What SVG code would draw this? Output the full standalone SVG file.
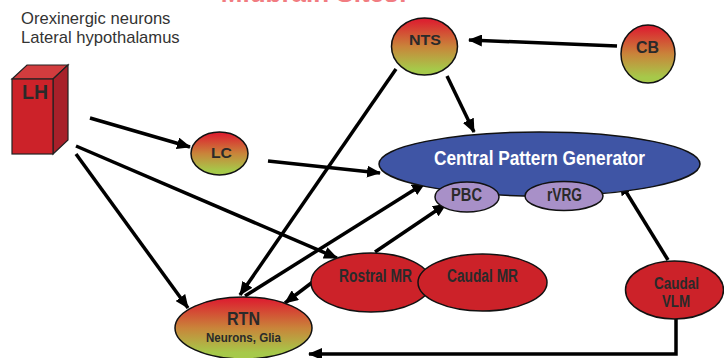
<svg xmlns="http://www.w3.org/2000/svg" width="724" height="358" viewBox="0 0 724 358">
<style>
.lbl{font-family:"Liberation Sans",Arial,sans-serif;font-weight:bold;fill:#2a2a2a;text-anchor:middle}
.red{fill:#cc2229;stroke:#111;stroke-width:1.5}
.grad{fill:url(#g);stroke:#111;stroke-width:1.5}
.pur{fill:#a890c8;stroke:#111;stroke-width:1.5}
.c{fill:none;stroke:#000;stroke-width:3.5;marker-end:url(#ah)}
.note{font-family:"Liberation Sans",Arial,sans-serif;font-size:16.6px;fill:#333}
</style>
<defs>
<linearGradient id="g" x1="0" y1="0" x2="0" y2="1">
<stop offset="0.05" stop-color="#dc2230"/>
<stop offset="0.5" stop-color="#c9843a"/>
<stop offset="0.9" stop-color="#a6c94a"/>
</linearGradient>
<marker id="ah" markerUnits="userSpaceOnUse" markerWidth="14" markerHeight="12" refX="13" refY="6" orient="auto">
<path d="M0,0 L14,6 L0,12 z" fill="#000"/>
</marker>
</defs>
<rect width="724" height="358" fill="#fff"/>
<text x="314" y="2" font-family="Liberation Sans,Arial,sans-serif" font-weight="bold" font-size="26" fill="#e8262e" text-anchor="middle" opacity="0.6">Midbrain Sites:</text>
<text class="note" x="21" y="24">Orexinergic neurons</text>
<text class="note" x="21" y="43">Lateral hypothalamus</text>

<g id="connectors">
<line class="c" x1="90" y1="118" x2="190" y2="147"/>
<line class="c" x1="76" y1="154" x2="188" y2="308"/>
<line class="c" x1="76" y1="146" x2="337" y2="258"/>
<line class="c" x1="268" y1="161" x2="380" y2="173"/>
<line class="c" x1="396" y1="69" x2="240" y2="295"/>
<line class="c" x1="447" y1="76" x2="474" y2="132"/>
<line class="c" x1="617" y1="46" x2="469" y2="40"/>
<line class="c" x1="245" y1="296" x2="425" y2="183"/>
<line class="c" x1="375" y1="252" x2="446" y2="204"/>
<line class="c" x1="314" y1="281" x2="285" y2="303"/>
<line class="c" x1="668" y1="260" x2="620" y2="182"/>
<path class="c" d="M676,319 V354 H309"/>
</g>

<g id="LH">
<polygon points="12,79 27,65 68,65 53,79" fill="#d23c3e" stroke="#222" stroke-width="1.2"/>
<polygon points="53,79 68,65 68,140 53,154" fill="#a8202a" stroke="#222" stroke-width="1.2"/>
<rect x="12" y="79" width="41" height="75" fill="#cc2229" stroke="#222" stroke-width="1.2"/>
<text class="lbl" x="35" y="99" font-size="20" textLength="26" lengthAdjust="spacingAndGlyphs">LH</text>
</g>

<g id="LC">
<ellipse class="grad" cx="219.5" cy="153.5" rx="28.5" ry="21.5"/>
<text class="lbl" x="221.5" y="158" font-size="15" textLength="21" lengthAdjust="spacingAndGlyphs">LC</text>
</g>

<g id="NTS">
<ellipse class="grad" cx="424.5" cy="46.5" rx="33" ry="28.5"/>
<text class="lbl" x="425" y="45" font-size="15" textLength="32" lengthAdjust="spacingAndGlyphs">NTS</text>
</g>

<g id="CB">
<ellipse class="grad" cx="648" cy="54" rx="27" ry="29"/>
<text class="lbl" x="647.5" y="53" font-size="16" textLength="23" lengthAdjust="spacingAndGlyphs">CB</text>
</g>

<g id="CPG">
<ellipse cx="539.5" cy="164" rx="160.5" ry="32" fill="#3f55a5" stroke="#111" stroke-width="1.5"/>
<text x="539.5" y="165" font-family="Liberation Sans,Arial,sans-serif" font-weight="bold" font-size="20" fill="#fff" text-anchor="middle" textLength="211" lengthAdjust="spacingAndGlyphs">Central Pattern Generator</text>
</g>

<g id="PBC">
<ellipse class="pur" cx="467" cy="197" rx="32" ry="15"/>
<text class="lbl" x="466.5" y="201" font-size="18" textLength="31" lengthAdjust="spacingAndGlyphs">PBC</text>
</g>

<g id="rVRG">
<ellipse class="pur" cx="564" cy="196" rx="39" ry="14.5"/>
<text class="lbl" x="564.5" y="201" font-size="18" textLength="35" lengthAdjust="spacingAndGlyphs">rVRG</text>
</g>

<g id="RostralMR">
<ellipse class="red" cx="371" cy="282.5" rx="60" ry="29.5"/>
<text class="lbl" x="375.5" y="282" font-size="18" textLength="73" lengthAdjust="spacingAndGlyphs">Rostral MR</text>
</g>

<g id="CaudalMR">
<ellipse class="red" cx="482.5" cy="282.5" rx="64.5" ry="28.5"/>
<text class="lbl" x="482.5" y="282" font-size="18" textLength="71" lengthAdjust="spacingAndGlyphs">Caudal MR</text>
</g>

<g id="CaudalVLM">
<ellipse class="red" cx="674.5" cy="290" rx="49" ry="29"/>
<text class="lbl" x="676.5" y="289" font-size="16" textLength="45" lengthAdjust="spacingAndGlyphs">Caudal</text>
<text class="lbl" x="676" y="307" font-size="16" textLength="28" lengthAdjust="spacingAndGlyphs">VLM</text>
</g>

<g id="RTN">
<ellipse class="grad" cx="243.5" cy="328" rx="68.5" ry="31"/>
<text class="lbl" x="243.5" y="325" font-size="18" textLength="33" lengthAdjust="spacingAndGlyphs">RTN</text>
<text class="lbl" x="243.5" y="342" font-size="13" textLength="75" lengthAdjust="spacingAndGlyphs">Neurons, Glia</text>
</g>
</svg>
